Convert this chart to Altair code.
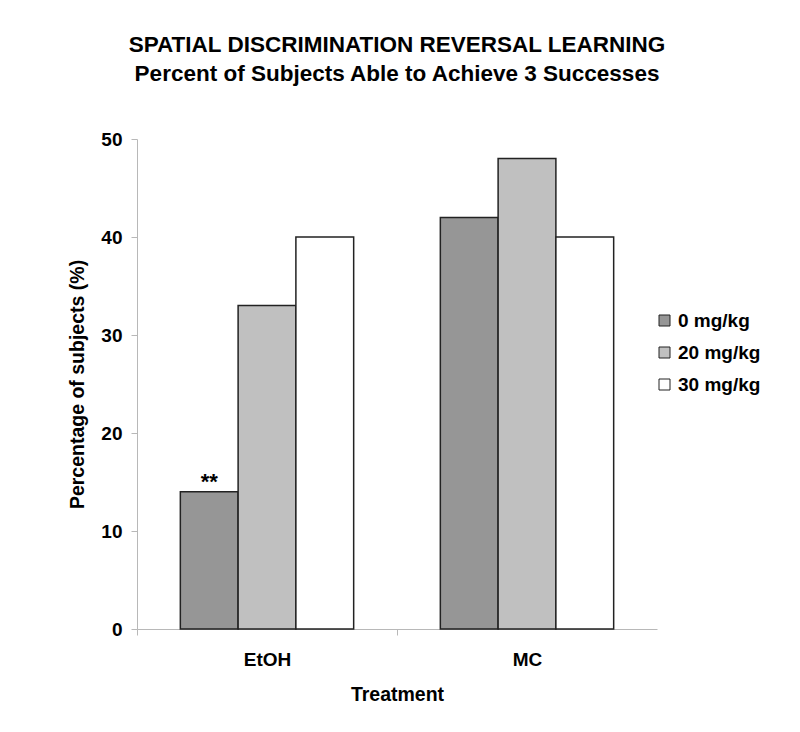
import altair as alt
import pandas as pd

treatments = ["EtOH", "MC"]
doses = ["0 mg/kg", "20 mg/kg", "30 mg/kg"]
values = {
    "EtOH": [14, 33, 40],
    "MC": [42, 48, 40],
}
dose_colors = ["#969696", "#c0c0c0", "#ffffff"]
annotation_text = "**"
annotation_treatment = "EtOH"
annotation_dose = "0 mg/kg"

rows = []
for t in treatments:
    for d, v in zip(doses, values[t]):
        rows.append({"Treatment": t, "Dose": d, "Value": v})
df = pd.DataFrame(rows)
ann = df[(df.Treatment == annotation_treatment) & (df.Dose == annotation_dose)].assign(label=annotation_text)

FONT = "Liberation Sans"

x_enc = alt.X("Treatment:N", sort=treatments,
              scale=alt.Scale(paddingInner=0, paddingOuter=0),
              axis=alt.Axis(title="Treatment", labelAngle=0, tickOffset=-130, labelOffset=130,
                            tickSize=6, labelPadding=15, titlePadding=16))
xo_enc = alt.XOffset("Dose:N", sort=doses,
                     scale=alt.Scale(paddingInner=0, paddingOuter=0.75))

bars = alt.Chart(df).mark_bar(stroke="#222222", strokeWidth=1.5).encode(
    x=x_enc,
    xOffset=xo_enc,
    y=alt.Y("Value:Q", scale=alt.Scale(domain=[0, 50]),
            axis=alt.Axis(title="Percentage of subjects (%)", values=[0, 10, 20, 30, 40, 50],
                          grid=False, tickSize=6, labelPadding=9, titlePadding=13)),
    fill=alt.Fill("Dose:N", sort=doses,
                  scale=alt.Scale(domain=doses, range=dose_colors),
                  legend=alt.Legend(title=None, orient="none", legendX=518, legendY=172,
                                    symbolType="square", symbolSize=121,
                                    symbolStrokeColor="#222222", symbolStrokeWidth=1,
                                    labelFontSize=19, labelFont=FONT, labelFontWeight="bold",
                                    labelColor="#000000", rowPadding=12, labelOffset=4)),
)

text = alt.Chart(ann).mark_text(fontSize=22, font=FONT, fontWeight="bold", dy=-10, color="#000000").encode(
    x=alt.X("Treatment:N", sort=treatments),
    xOffset=alt.XOffset("Dose:N", sort=doses),
    y=alt.Y("Value:Q"),
    text="label:N",
)

chart = alt.layer(bars, text).properties(
    width=520, height=490,
    background="#ffffff",
    autosize=alt.AutoSizeParams(type="none"),
    padding={"left": 129, "top": 131, "right": 135, "bottom": 95},
    title=alt.TitleParams(
        text=["SPATIAL DISCRIMINATION REVERSAL LEARNING",
              "Percent of Subjects Able to Achieve 3 Successes"],
        fontSize=22.5, font=FONT, fontWeight="bold", color="#000000",
        lineHeight=29, offset=45, anchor="middle",
    ),
).configure_view(stroke=None).configure_axis(
    labelFont=FONT, labelFontSize=19, labelFontWeight="bold", labelColor="#000000",
    titleFont=FONT, titleFontSize=19.5, titleFontWeight="bold", titleColor="#000000",
    domainColor="#b8b8b8", tickColor="#b8b8b8", domainWidth=1,
)

chart.save("out.html", embed_options={"renderer": "svg", "actions": False})
